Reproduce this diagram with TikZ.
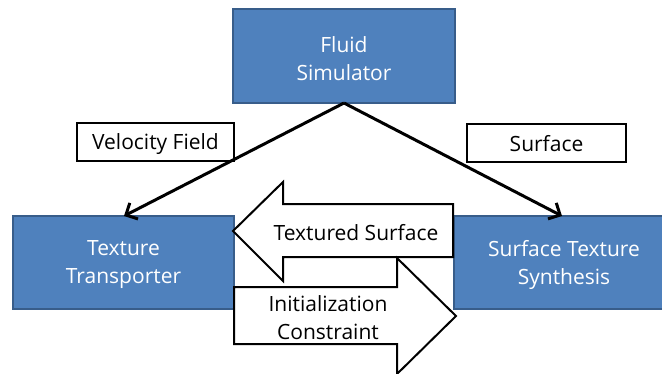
\documentclass[tikz,border=0pt]{standalone}
\usepackage{fontspec}
\setmainfont{Open Sans}
\usetikzlibrary{arrows.meta}
\definecolor{boxfill}{HTML}{4F81BD}
\definecolor{boxline}{HTML}{385D8A}
\tikzset{
  procbox/.style={draw=boxline, line width=1.5pt, fill=boxfill, inner sep=0pt},
  proctext/.style={text=white, align=center, inner sep=0pt, font=\fontsize{21}{28}\selectfont},
  labelbox/.style={draw=black, line width=2pt, fill=white, inner sep=0pt},
  labeltext/.style={align=center, inner sep=0pt, font=\fontsize{21}{28}\selectfont},
  flow/.style={line width=3pt, -{Straight Barb[length=9pt,width=18pt,line width=3pt]}},
  bigarrow/.style={draw=black, line width=2pt, fill=white, line join=miter},
  arrowtext/.style={align=center, font=\fontsize{21}{28}\selectfont, inner sep=0pt}
}
\begin{document}
\begin{tikzpicture}[x=1pt,y=-1pt]
\useasboundingbox (0,0) rectangle (662,373);
\begin{scope}
\clip (0,0) rectangle (662,373);
\node[procbox, minimum width=222pt, minimum height=94pt] (fluid) at (344,56) {};
\node[proctext] (fluidt) at (344,58.5) {Fluid\\Simulator};
\node[procbox, minimum width=221pt, minimum height=93pt] (tt) at (123.5,262.5) {};
\node[proctext] (ttt) at (123.5,265) {Texture\\Transporter};
\node[procbox, minimum width=220pt, minimum height=93pt] (sts) at (564,262.5) {};
\node[proctext] (stst) at (564,265) {Surface Texture\\Synthesis};
\node[labelbox, minimum width=157pt, minimum height=38pt] (vf) at (155.5,142) {};
\node[labeltext] (vft) at (155.5,144) {Velocity Field};
\node[labelbox, minimum width=159pt, minimum height=38pt] (sf) at (546.5,143) {};
\node[labeltext] (sft) at (546.5,144) {Surface};
\coordinate (apex) at (344,103);
\coordinate (tttop) at (124,216);
\coordinate (ststop) at (562,216);
\draw[flow] (apex) -- (tttop);
\draw[flow] (apex) -- (ststop);
% left big arrow
\draw[bigarrow] (233,231) -- (283,182) -- (283,204) -- (453,204) -- (453,257) -- (283,257) -- (283,281) -- cycle;
% right big arrow
\draw[bigarrow] (234,287) -- (397,287) -- (397,258) -- (456,316) -- (397,374) -- (397,344) -- (234,344) -- cycle;
\node[arrowtext] (ts) at (356,233) {Textured Surface};
\node[arrowtext] (ic) at (328,318) {Initialization\\Constraint};
\end{scope}
\end{tikzpicture}
\end{document}
